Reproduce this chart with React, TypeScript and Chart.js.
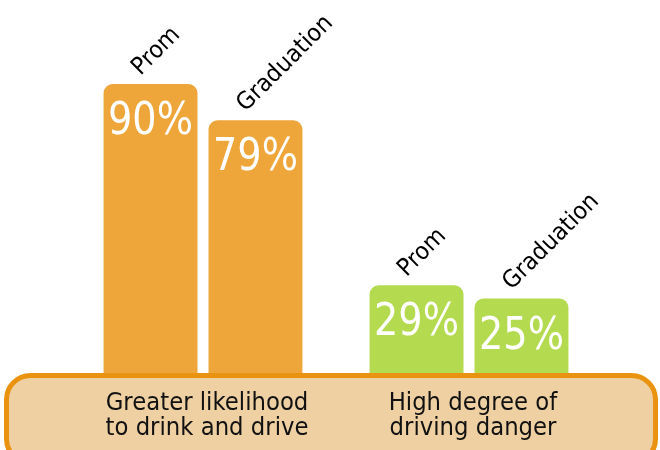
import React, { useEffect, useRef } from "react";
import { Chart, registerables } from "chart.js";

Chart.register(...registerables);

const groups = [
  ["Greater likelihood", "to drink and drive"],
  ["High degree of", "driving danger"],
];
const seriesNames = ["Prom", "Graduation"];
const promValues = [90, 29];
const graduationValues = [79, 25];
const groupColors = ["#EEA63B", "#B4DA4F"];

const FONT = '"DejaVu Sans", Verdana, sans-serif';

function drawSquashed(ctx: CanvasRenderingContext2D, text: string, x: number, y: number, size: number, sx: number, align: "left" | "center") {
  ctx.save();
  ctx.translate(x, y);
  ctx.scale(sx, 1);
  ctx.font = `${size}px ${FONT}`;
  ctx.textAlign = align;
  ctx.fillText(text, 0, 0);
  ctx.restore();
}

const overlayPlugin = {
  id: "overlay",
  afterDatasetsDraw(chart: any) {
    const ctx: CanvasRenderingContext2D = chart.ctx;
    const x = chart.scales.x;
    chart.data.datasets.forEach((ds: any, di: number) => {
      const meta = chart.getDatasetMeta(di);
      meta.data.forEach((bar: any, i: number) => {
        const v = ds.data[i];
        ctx.save();
        ctx.fillStyle = "#ffffff";
        ctx.textBaseline = "alphabetic";
        drawSquashed(ctx, `${v}%`, bar.x, bar.y + 50, 45, 0.85, "center");
        ctx.restore();
        ctx.save();
        ctx.fillStyle = "#000000";
        ctx.translate(bar.x - 10, bar.y - 8);
        ctx.rotate(-Math.PI / 4);
        ctx.scale(0.93, 1);
        ctx.font = `24px ${FONT}`;
        ctx.textAlign = "left";
        ctx.textBaseline = "alphabetic";
        ctx.fillText(ds.label, 0, 0);
        ctx.restore();
      });
    });
    // base panel
    ctx.save();
    const left = 6.5, right = 655.5, top = 375.5, bottom = 463, r = 24;
    ctx.beginPath();
    ctx.moveTo(left + r, top);
    ctx.lineTo(right - r, top);
    ctx.arcTo(right, top, right, top + r, r);
    ctx.lineTo(right, bottom - r);
    ctx.arcTo(right, bottom, right - r, bottom, r);
    ctx.lineTo(left + r, bottom);
    ctx.arcTo(left, bottom, left, bottom - r, r);
    ctx.lineTo(left, top + r);
    ctx.arcTo(left, top, left + r, top, r);
    ctx.closePath();
    ctx.fillStyle = "#EED0A3";
    ctx.fill();
    ctx.lineWidth = 5;
    ctx.strokeStyle = "#EA9310";
    ctx.stroke();
    ctx.restore();
    ctx.save();
    ctx.fillStyle = "#111111";
    ctx.textBaseline = "alphabetic";
    groups.forEach((lines, i) => {
      const cx = x.getPixelForValue(i) + 4;
      lines.forEach((line, li) => {
        drawSquashed(ctx, line, cx, 410 + li * 25, 24.5, 0.93, "center");
      });
    });
    ctx.restore();
  },
};

export default function App() {
  const ref = useRef<HTMLCanvasElement>(null);
  useEffect(() => {
    const chart = new Chart(ref.current!, {
      type: "bar",
      data: {
        labels: groups.map((g) => g.join(" ")),
        datasets: [
          {
            label: seriesNames[0],
            data: promValues,
            backgroundColor: groupColors,
            borderRadius: { topLeft: 9, topRight: 9, bottomLeft: 0, bottomRight: 0 },
            borderSkipped: false,
            barPercentage: 0.895,
            categoryPercentage: 0.789,
          },
          {
            label: seriesNames[1],
            data: graduationValues,
            backgroundColor: groupColors,
            borderRadius: { topLeft: 9, topRight: 9, bottomLeft: 0, bottomRight: 0 },
            borderSkipped: false,
            barPercentage: 0.895,
            categoryPercentage: 0.789,
          },
        ],
      },
      options: {
        animation: false,
        responsive: false,
        maintainAspectRatio: false,
        layout: { padding: { left: 70, right: 58, top: 51, bottom: 69 } },
        plugins: { legend: { display: false }, tooltip: { enabled: false } },
        scales: {
          x: { display: false },
          y: { display: false, min: 0, max: 100 },
        },
      },
      plugins: [overlayPlugin],
    });
    return () => chart.destroy();
  }, []);
  return (
    <div style={{ position: "fixed", left: 0, top: 0, width: 660, height: 450, background: "#fff" }}>
      <canvas ref={ref} width={660} height={450} style={{ display: "block" }} />
    </div>
  );
}
